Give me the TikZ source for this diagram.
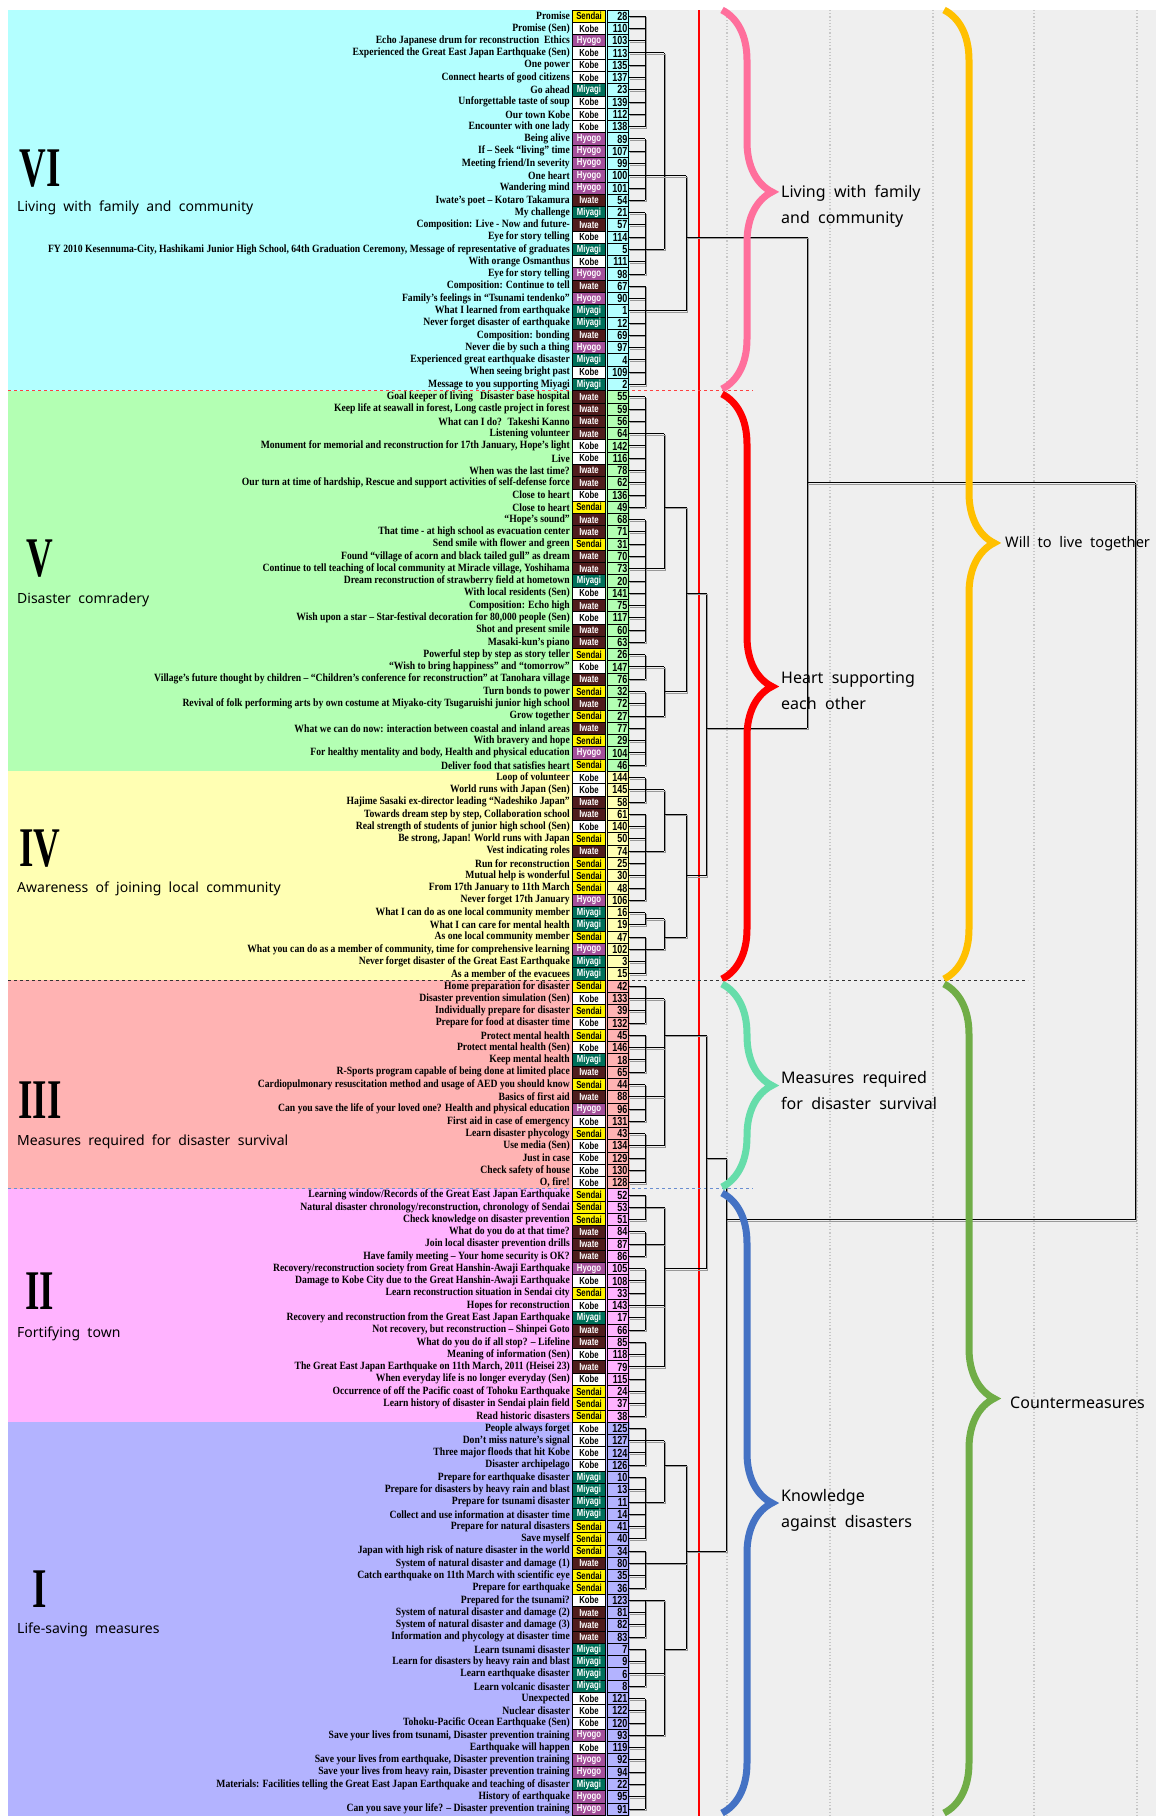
\documentclass[tikz,border=0pt]{standalone}
\usepackage{fontspec}
\usetikzlibrary{positioning, calc, decorations.pathreplacing}
\newfontfamily\lblfont[FakeStretch=0.87]{Liberation Serif}
\newfontfamily\tagfont[FakeStretch=0.76]{Liberation Sans}
\newfontfamily\capfont[WordSpace=2.0]{Noto Sans}
\newfontfamily\romfont{Liberation Serif}

\definecolor{bandVI}{HTML}{B3FFFF}
\definecolor{bandV}{HTML}{B3FFB3}
\definecolor{bandIV}{HTML}{FFFFB3}
\definecolor{bandIII}{HTML}{FFB3B3}
\definecolor{bandII}{HTML}{FFB3FF}
\definecolor{bandI}{HTML}{B3B3FF}
\definecolor{bggray}{HTML}{EFEFEF}
\definecolor{hyogo}{HTML}{A3509A}
\definecolor{miyagi}{HTML}{00705A}
\definecolor{iwate}{HTML}{4F1C1C}
\definecolor{bpink}{HTML}{FF6F9C}
\definecolor{bred}{HTML}{FF0000}
\definecolor{bmint}{HTML}{66DDAA}
\definecolor{bblue}{HTML}{4472C4}
\definecolor{byellow}{HTML}{FFC000}
\definecolor{bgreen}{HTML}{70AD47}

% row centre (rows are 12.28 high, first row starts at 10)
\newcommand\ry[1]{10+(#1-0.5)*12.28}

\begin{document}
\begin{tikzpicture}[x=1pt, y=-1pt,
    lbl/.style={anchor=east, inner sep=0pt, font=\lblfont\bfseries\fontsize{11.1}{11}\selectfont},
    reg/.style={draw, line width=0.8pt, minimum width=33.5pt, minimum height=12.28pt, inner sep=0pt,
      font=\tagfont\bfseries\fontsize{10.2}{10}\selectfont},
    Sendai/.style={fill=yellow},
    Kobe/.style={fill=white},
    Hyogo/.style={fill=hyogo, text=white},
    Miyagi/.style={fill=miyagi, text=white},
    Iwate/.style={fill=iwate, text=white},
    num/.style={draw, line width=0.8pt, minimum height=12.28pt, text width=18.5pt, align=right,
      inner xsep=1.2pt, inner ysep=0pt, font=\tagfont\bfseries\fontsize{11.8}{11}\selectfont},
    den/.style={line width=1pt, preaction={draw=black!40, line width=1pt, transform canvas={shift={(1.5pt,-1.5pt)}}}},
    brc/.style={decorate, decoration={brace, amplitude=50pt, aspect=#1}, line width=7pt},
    brc/.default=0.5,
    cat/.style={anchor=west, align=left, inner sep=0pt, font=\capfont\fontsize{16}{26}\selectfont},
    sec/.style={anchor=west, inner sep=0pt, font=\capfont\fontsize{14}{14}\selectfont},
    rom/.style={inner sep=0pt, font=\romfont\bfseries\fontsize{56}{56}\selectfont}
  ]
\useasboundingbox (0,0) rectangle (1156,1816);

% backgrounds
\fill[bggray] (630,10) rectangle (1156,1816);
\fill[bandVI] (8,10) rectangle (630,390.68);
\fill[bandV] (8,390.68) rectangle (630,771.36);
\fill[bandIV] (8,771.36) rectangle (630,980.12);
\fill[bandIII] (8,980.12) rectangle (630,1188.88);
\fill[bandII] (8,1188.88) rectangle (630,1422.2);
\fill[bandI] (8,1422.2) rectangle (630,1816);
\foreach \gx in {727,830,933,1034,1137}
  \draw[black!22, dotted, line width=1.2pt] (\gx,10) -- (\gx,1816);
\draw[red, line width=1.2pt] (699,10) -- (699,1816);
\draw[red!75, dashed, line width=1pt] (8,390.68) -- (753,390.68);
\draw[black!80, dashed, line width=1pt] (8,980.12) -- (1028,980.12);
\draw[bblue!80, dashed, line width=1pt] (8,1188.88) -- (753,1188.88);

% leaves
\foreach \txt/\reg/\num [count=\k] in {
  {Promise}/Sendai/28,
  {Promise (Sen)}/Kobe/110,
  {Echo Japanese drum for reconstruction~ Ethics}/Hyogo/103,
  {Experienced the Great East Japan Earthquake (Sen)}/Kobe/113,
  {One power}/Kobe/135,
  {Connect hearts of good citizens}/Kobe/137,
  {Go ahead}/Miyagi/23,
  {Unforgettable taste of soup}/Kobe/139,
  {Our town Kobe}/Kobe/112,
  {Encounter with one lady}/Kobe/138,
  {Being alive}/Hyogo/89,
  {If – Seek “living” time}/Hyogo/107,
  {Meeting friend/In severity}/Hyogo/99,
  {One heart}/Hyogo/100,
  {Wandering mind}/Hyogo/101,
  {Iwate’s poet – Kotaro Takamura}/Iwate/54,
  {My challenge}/Miyagi/21,
  {Composition: Live - Now and future-}/Iwate/57,
  {Eye for story telling}/Kobe/114,
  {FY 2010 Kesennuma-City, Hashikami Junior High School, 64th Graduation Ceremony, Message of representative of graduates}/Miyagi/5,
  {With orange Osmanthus}/Kobe/111,
  {Eye for story telling}/Hyogo/98,
  {Composition: Continue to tell}/Iwate/67,
  {Family’s feelings in “Tsunami tendenko”}/Hyogo/90,
  {What I learned from earthquake}/Miyagi/1,
  {Never forget disaster of earthquake}/Miyagi/12,
  {Composition: bonding}/Iwate/69,
  {Never die by such a thing}/Hyogo/97,
  {Experienced great earthquake disaster}/Miyagi/4,
  {When seeing bright past}/Kobe/109,
  {Message to you supporting Miyagi}/Miyagi/2,
  {Goal keeper of living~~ Disaster base hospital}/Iwate/55,
  {Keep life at seawall in forest, Long castle project in forest}/Iwate/59,
  {What can I do?~ Takeshi Kanno}/Iwate/56,
  {Listening volunteer}/Iwate/64,
  {Monument for memorial and reconstruction for 17th January, Hope’s light}/Kobe/142,
  {Live}/Kobe/116,
  {When was the last time?}/Iwate/78,
  {Our turn at time of hardship, Rescue and support activities of self-defense force}/Iwate/62,
  {Close to heart}/Kobe/136,
  {Close to heart}/Sendai/49,
  {“Hope’s sound”}/Iwate/68,
  {That time - at high school as evacuation center}/Iwate/71,
  {Send smile with flower and green}/Sendai/31,
  {Found “village of acorn and black tailed gull” as dream}/Iwate/70,
  {Continue to tell teaching of local community at Miracle village, Yoshihama}/Iwate/73,
  {Dream reconstruction of strawberry field at hometown}/Miyagi/20,
  {With local residents (Sen)}/Kobe/141,
  {Composition: Echo high}/Iwate/75,
  {Wish upon a star – Star-festival decoration for 80,000 people (Sen)}/Kobe/117,
  {Shot and present smile}/Iwate/60,
  {Masaki-kun’s piano}/Iwate/63,
  {Powerful step by step as story teller}/Sendai/26,
  {“Wish to bring happiness” and “tomorrow”}/Kobe/147,
  {Village’s future thought by children – “Children’s conference for reconstruction” at Tanohara village}/Iwate/76,
  {Turn bonds to power}/Sendai/32,
  {Revival of folk performing arts by own costume at Miyako-city Tsugaruishi junior high school}/Iwate/72,
  {Grow together}/Sendai/27,
  {What we can do now: interaction between coastal and inland areas}/Iwate/77,
  {With bravery and hope}/Sendai/29,
  {For healthy mentality and body, Health and physical education}/Hyogo/104,
  {Deliver food that satisfies heart}/Sendai/46,
  {Loop of volunteer}/Kobe/144,
  {World runs with Japan (Sen)}/Kobe/145,
  {Hajime Sasaki ex-director leading “Nadeshiko Japan”}/Iwate/58,
  {Towards dream step by step, Collaboration school}/Iwate/61,
  {Real strength of students of junior high school (Sen)}/Kobe/140,
  {Be strong, Japan! World runs with Japan}/Sendai/50,
  {Vest indicating roles}/Iwate/74,
  {Run for reconstruction}/Sendai/25,
  {Mutual help is wonderful}/Sendai/30,
  {From 17th January to 11th March}/Sendai/48,
  {Never forget 17th January}/Hyogo/106,
  {What I can do as one local community member}/Miyagi/16,
  {What I can care for mental health}/Miyagi/19,
  {As one local community member}/Sendai/47,
  {What you can do as a member of community, time for comprehensive learning}/Hyogo/102,
  {Never forget disaster of the Great East Earthquake}/Miyagi/3,
  {As a member of the evacuees}/Miyagi/15,
  {Home preparation for disaster}/Sendai/42,
  {Disaster prevention simulation (Sen)}/Kobe/133,
  {Individually prepare for disaster}/Sendai/39,
  {Prepare for food at disaster time}/Kobe/132,
  {Protect mental health}/Sendai/45,
  {Protect mental health (Sen)}/Kobe/146,
  {Keep mental health}/Miyagi/18,
  {R-Sports program capable of being done at limited place}/Iwate/65,
  {Cardiopulmonary resuscitation method and usage of AED you should know}/Sendai/44,
  {Basics of first aid}/Iwate/88,
  {Can you save the life of your loved one? Health and physical education}/Hyogo/96,
  {First aid in case of emergency}/Kobe/131,
  {Learn disaster phycology}/Sendai/43,
  {Use media (Sen)}/Kobe/134,
  {Just in case}/Kobe/129,
  {Check safety of house}/Kobe/130,
  {O, fire!}/Kobe/128,
  {Learning window/Records of the Great East Japan Earthquake}/Sendai/52,
  {Natural disaster chronology/reconstruction, chronology of Sendai}/Sendai/53,
  {Check knowledge on disaster prevention}/Sendai/51,
  {What do you do at that time?}/Iwate/84,
  {Join local disaster prevention drills}/Iwate/87,
  {Have family meeting – Your home security is OK?}/Iwate/86,
  {Recovery/reconstruction society from Great Hanshin-Awaji Earthquake}/Hyogo/105,
  {Damage to Kobe City due to the Great Hanshin-Awaji Earthquake}/Kobe/108,
  {Learn reconstruction situation in Sendai city}/Sendai/33,
  {Hopes for reconstruction}/Kobe/143,
  {Recovery and reconstruction from the Great East Japan Earthquake}/Miyagi/17,
  {Not recovery, but reconstruction – Shinpei Goto}/Iwate/66,
  {What do you do if all stop? – Lifeline}/Iwate/85,
  {Meaning of information (Sen)}/Kobe/118,
  {The Great East Japan Earthquake on 11th March, 2011 (Heisei 23)}/Iwate/79,
  {When everyday life is no longer everyday (Sen)}/Kobe/115,
  {Occurrence of off the Pacific coast of Tohoku Earthquake}/Sendai/24,
  {Learn history of disaster in Sendai plain field}/Sendai/37,
  {Read historic disasters}/Sendai/38,
  {People always forget}/Kobe/125,
  {Don’t miss nature’s signal}/Kobe/127,
  {Three major floods that hit Kobe}/Kobe/124,
  {Disaster archipelago}/Kobe/126,
  {Prepare for earthquake disaster}/Miyagi/10,
  {Prepare for disasters by heavy rain and blast}/Miyagi/13,
  {Prepare for tsunami disaster}/Miyagi/11,
  {Collect and use information at disaster time}/Miyagi/14,
  {Prepare for natural disasters}/Sendai/41,
  {Save myself}/Sendai/40,
  {Japan with high risk of nature disaster in the world}/Sendai/34,
  {System of natural disaster and damage (1)}/Iwate/80,
  {Catch earthquake on 11th March with scientific eye}/Sendai/35,
  {Prepare for earthquake}/Sendai/36,
  {Prepared for the tsunami?}/Kobe/123,
  {System of natural disaster and damage (2)}/Iwate/81,
  {System of natural disaster and damage (3)}/Iwate/82,
  {Information and phycology at disaster time}/Iwate/83,
  {Learn tsunami disaster}/Miyagi/7,
  {Learn for disasters by heavy rain and blast}/Miyagi/9,
  {Learn earthquake disaster}/Miyagi/6,
  {Learn volcanic disaster}/Miyagi/8,
  {Unexpected}/Kobe/121,
  {Nuclear disaster}/Kobe/122,
  {Tohoku-Pacific Ocean Earthquake (Sen)}/Kobe/120,
  {Save your lives from tsunami, Disaster prevention training}/Hyogo/93,
  {Earthquake will happen}/Kobe/119,
  {Save your lives from earthquake, Disaster prevention training}/Hyogo/92,
  {Save your lives from heavy rain, Disaster prevention training}/Hyogo/94,
  {Materials: Facilities telling the Great East Japan Earthquake and teaching of disaster}/Miyagi/22,
  {History of earthquake}/Hyogo/95,
  {Can you save your life? – Disaster prevention training}/Hyogo/91}
{
  \node[lbl] (lb\k) at (570,{\ry{\k}}) {\txt};
  \node[reg, \reg] (rg\k) at (589,{\ry{\k}}) {\reg};
  \node[num] (nb\k) at (618,{\ry{\k}}) {\num};
  \draw[den] (nb\k.east) -- (645,{\ry{\k}});
}

% dendrogram: vertical bars x/from/to
\foreach \x/\a/\b in {645/1/10, 645/11/16, 645/17/22, 645/23/31, 645/32/41, 645/42/52, 645/53/55,
    645/56/62, 645/63/65, 645/66/73, 645/74/75, 645/76/79, 645/80/83, 645/84/87, 645/88/91,
    645/92/96, 645/97/99, 645/100/102, 645/103/108, 645/109/115, 645/116/119, 645/120/125,
    645/126/129, 645/130/133, 645/134/137, 645/138/147,
    664/4/20, 664/35/46, 664/54/58, 664/64/69, 664/74.5/77, 664/81/93, 664/98/111,
    664/117/122, 664/130/141,
    686/14/25, 686/41/56, 686/66/76, 686/119/134,
    706/48/71, 706/84/103, 726/94/126, 807/19/59, 1135/39/99}
  \draw[den] (\x,{\ry{\a}}) -- (\x,{\ry{\b}});
% dendrogram: horizontal links row/from/to
\foreach \r/\xa/\xb in {4/645/664, 14/645/664, 20/645/664, 35/645/664, 46/645/664, 54/645/664,
    58/645/664, 64/645/664, 69/645/664, 74.5/645/664, 77/645/664, 81/645/664, 85/645/664,
    89/645/664, 93/645/664, 98/645/664, 101/645/664, 106/645/664, 111/645/664, 117/645/664,
    122/645/664, 130/645/664, 136/645/664, 141/645/664,
    25/645/686, 127/645/686,
    14/664/686, 41/664/686, 56/664/686, 66/664/686, 76/664/686, 119/664/686, 134/664/686,
    19/686/807, 48/686/706, 71/686/706, 84/664/706, 103/664/706, 59/706/807,
    94/706/726, 126/686/726, 99/726/1135, 39/807/1135}
  \draw[den] (\xa,{\ry{\r}}) -- (\xb,{\ry{\r}});

% braces
\draw[brc=0.48, bpink] (722,10) -- (722,389);
\draw[brc, bred] (722,394) -- (722,979);
\draw[brc, bmint] (722,984) -- (722,1187);
\draw[brc, bblue] (722,1193) -- (722,1813);
\draw[brc=0.55, byellow] (944,10) -- (944,979);
\draw[brc, bgreen] (944,984) -- (944,1813);

\node[cat] (grpA) at (781,206) {Living with family\\and community};
\node[cat] (grpB) at (781,691) {Heart supporting\\each other};
\node[cat] (grpC) at (781,1090) {Measures required\\for disaster survival};
\node[cat] (grpD) at (781,1510) {Knowledge\\against disasters};
\node[cat, font=\capfont\fontsize{14.6}{26}\selectfont] (topA) at (1005,544) {Will to live together};
\node[cat] (topB) at (1010,1403) {Countermeasures};

% category headings on the left
\node[rom] (romVI) at (40,169) {\scalebox{0.66}[1]{VI}};
\node[rom] (romV) at (40,559) {\scalebox{0.66}[1]{V}};
\node[rom] (romIV) at (40,849) {\scalebox{0.66}[1]{IV}};
\node[rom] (romIII) at (40,1100) {\scalebox{0.66}[1]{III}};
\node[rom] (romII) at (40,1291) {\scalebox{0.66}[1]{II}};
\node[rom] (romI) at (40,1589) {\scalebox{0.66}[1]{I}};
\node[sec] (secVI) at (17,208) {Living with family and community};
\node[sec] (secV) at (17,600) {Disaster comradery};
\node[sec] (secIV) at (17,889) {Awareness of joining local community};
\node[sec] (secIII) at (17,1142) {Measures required for disaster survival};
\node[sec] (secII) at (17,1334) {Fortifying town};
\node[sec] (secI) at (17,1630) {Life-saving measures};
\end{tikzpicture}
\end{document}
